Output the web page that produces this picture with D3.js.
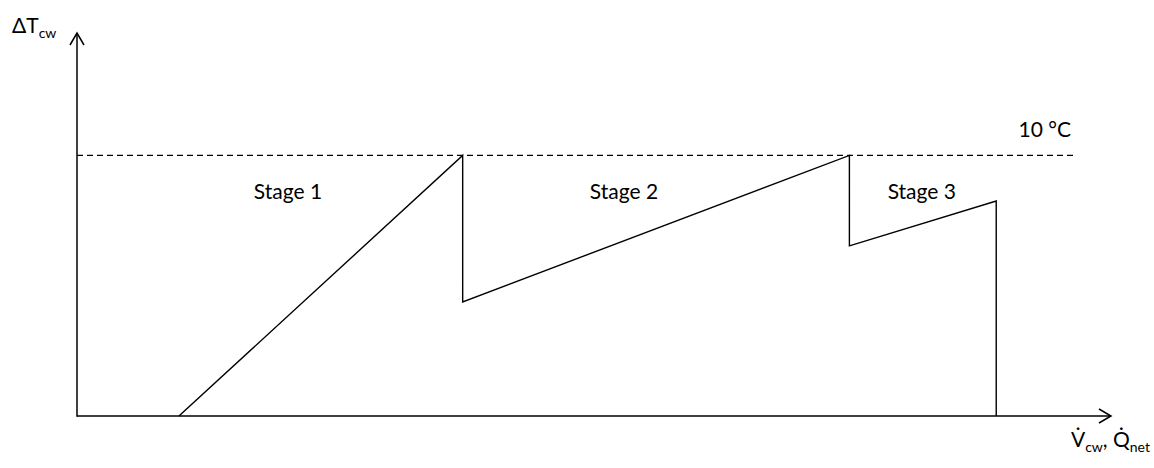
<!DOCTYPE html>
<html>
<head>
<meta charset="utf-8">
<script src="https://cdn.jsdelivr.net/npm/d3@7"></script>
<style>
  html, body { margin: 0; padding: 0; background: #fff; }
  svg { display: block; }
  text { font-family: Lato, "Open Sans", sans-serif; fill: #000; }
</style>
</head>
<body>
<svg id="chart" width="1154" height="468"></svg>
<script>
// Cooling-water temperature rise vs. flow / net heat load, three operating stages
const profileX = [9.86, 37.3, 37.3, 74.7, 74.7, 88.9, 88.9];
const profileY = [0, 10, 4.38, 10, 6.53, 8.25, 0];
const limitValue = 10;           // °C, dashed limit
const limitEnd = 96.7;
const limitLabel = "10 °C";
const stageNames = ["Stage 1", "Stage 2", "Stage 3"];
const stageX = [20.4, 52.9, 81.7];
const stageY = [8.6, 8.6, 8.6];

const svg = d3.select("#chart");
const W = 1154, H = 468;

const x = d3.scaleLinear().domain([0, 100]).range([77, 1111]);
const y = d3.scaleLinear().domain([0, 14.7]).range([416, 33]);

const g = svg.append("g");

// Axes with open arrowheads
const x0 = x(0), y0 = y(0), xEnd = x(100), yEnd = y(14.7);
g.append("line").attr("x1", x0).attr("y1", y0).attr("x2", xEnd).attr("y2", y0)
  .attr("stroke", "#000").attr("stroke-width", 1.5);
g.append("line").attr("x1", x0).attr("y1", y0 + 0.75).attr("x2", x0).attr("y2", yEnd)
  .attr("stroke", "#000").attr("stroke-width", 1.5);
g.append("path")
  .attr("d", `M${xEnd - 12},${y0 - 7}L${xEnd},${y0}L${xEnd - 12},${y0 + 7}`)
  .attr("fill", "none").attr("stroke", "#000").attr("stroke-width", 1.5);
g.append("path")
  .attr("d", `M${x0 - 7},${yEnd + 12}L${x0},${yEnd}L${x0 + 7},${yEnd + 12}`)
  .attr("fill", "none").attr("stroke", "#000").attr("stroke-width", 1.5);

// Limit line
g.append("line")
  .attr("x1", x(0)).attr("x2", x(limitEnd))
  .attr("y1", y(limitValue)).attr("y2", y(limitValue))
  .attr("stroke", "#000").attr("stroke-width", 1.2)
  .attr("stroke-dasharray", "6,4");

// Temperature-rise profile
const pts = profileX.map((v, i) => [x(v), y(profileY[i])]);
g.append("path")
  .attr("d", d3.line()(pts))
  .attr("fill", "none").attr("stroke", "#000").attr("stroke-width", 1.4)
  .attr("stroke-linejoin", "miter");

// Stage labels
const fs = 21;
stageNames.forEach((s, i) => {
  g.append("text")
    .attr("x", x(stageX[i])).attr("y", y(stageY[i]) + 7)
    .attr("text-anchor", "middle")
    .style("font-size", fs + "px")
    .text(s);
});

// Limit label
g.append("text")
  .attr("x", 1071).attr("y", y(limitValue) - 18)
  .attr("text-anchor", "end")
  .style("font-size", fs + "px")
  .text(limitLabel);

// Y-axis title: ΔT_cw
const yt = g.append("text").attr("x", 12).attr("y", 33).style("font-size", fs + "px");
yt.append("tspan").text("ΔT");
yt.append("tspan").attr("dy", 5).style("font-size", "14px").text("cw");

// X-axis title: V̇_cw, Q̇_net
const xt = g.append("text").attr("x", 1150).attr("y", 447)
  .attr("text-anchor", "end").style("font-size", fs + "px");
xt.append("tspan").text("V\u0307");
xt.append("tspan").attr("dy", 5).style("font-size", "14px").text("cw");
xt.append("tspan").attr("dy", -5).text(", Q\u0307");
xt.append("tspan").attr("dy", 5).style("font-size", "14px").text("net");
</script>
</body>
</html>
